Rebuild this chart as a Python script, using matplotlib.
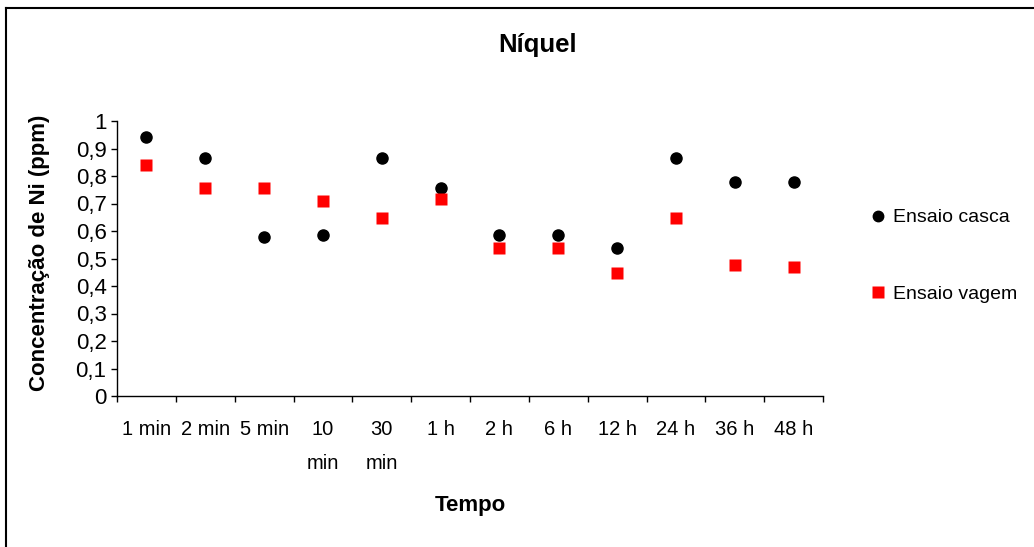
import matplotlib
matplotlib.use("Agg")
import matplotlib.pyplot as plt
from matplotlib.lines import Line2D

plt.rcParams['font.family'] = ['Liberation Sans', 'DejaVu Sans']

# Sampling times and nickel concentration (ppm) for each test
tempos = ["1 min", "2 min", "5 min", "10\nmin", "30\nmin", "1 h",
          "2 h", "6 h", "12 h", "24 h", "36 h", "48 h"]
ensaio_casca = [0.943, 0.865, 0.578, 0.584, 0.865, 0.758,
                0.585, 0.585, 0.54, 0.864, 0.779, 0.779]
ensaio_vagem = [0.841, 0.756, 0.756, 0.71, 0.647, 0.716,
                0.54, 0.54, 0.446, 0.648, 0.476, 0.47]

W, H = 1034, 547
fig = plt.figure(figsize=(W / 100, H / 100), dpi=100)
fig.patch.set_facecolor("white")

# plot area in pixel coordinates
x0, x1, y_top, y_bot = 117, 823, 121, 396
ax = fig.add_axes([x0 / W, 1 - y_bot / H, (x1 - x0) / W, (y_bot - y_top) / H])

pos = [i + 0.5 for i in range(len(tempos))]
ax.plot(pos, ensaio_casca, linestyle="none", marker="o", ms=8,
        color="black", mec="black", clip_on=False, zorder=3)
ax.plot(pos, ensaio_vagem, linestyle="none", marker="s", ms=8.5,
        color="#ff0000", mec="none", clip_on=False, zorder=3)

ax.set_xlim(0, len(tempos))
ax.set_ylim(0, 1)

# y axis
yt = [i / 10 for i in range(11)]
ax.set_yticks(yt)
ax.set_yticklabels(["0" if v == 0 else ("1" if v == 1 else f"{v:.1f}".replace(".", ",")) for v in yt])
ax.tick_params(axis="y", direction="out", length=4.5, width=1, pad=3,
               labelsize=16, color="black")

# x axis: labels at category centers, tick marks at boundaries
ax.set_xticks(pos)
ax.set_xticklabels(tempos, linespacing=2.05, verticalalignment="top")
ax.set_xticks(range(len(tempos) + 1), minor=True)
ax.tick_params(axis="x", which="major", length=0, pad=17, labelsize=14.5)
ax.tick_params(axis="x", which="minor", direction="out", length=4.5, width=1)

for side in ("top", "right"):
    ax.spines[side].set_visible(False)
for side in ("left", "bottom"):
    ax.spines[side].set_linewidth(1)
    ax.spines[side].set_color("black")

# titles
fig.text(538 / W, 1 - 45 / H, "Níquel", ha="center", va="center",
         fontsize=18.5, fontweight="bold")
fig.text(470 / W, 1 - 506 / H, "Tempo", ha="center", va="center",
         fontsize=16, fontweight="bold")
fig.text(40 / W, 1 - 253 / H, "Concentração de Ni (ppm)", ha="center",
         va="center", rotation=90, fontsize=16, fontweight="bold")

# legend
handles = [
    Line2D([], [], linestyle="none", marker="o", ms=7.5, color="black"),
    Line2D([], [], linestyle="none", marker="s", ms=8, color="#ff0000", mec="none"),
]
fig.legend(handles, ["Ensaio casca", "Ensaio vagem"], loc="center left",
           bbox_to_anchor=(870 / W, 1 - 256 / H), frameon=False, fontsize=14,
           handlelength=0.8, handletextpad=0.4, labelspacing=3.05,
           borderpad=0, borderaxespad=0)

# chart area border (top and left edges)
fig.add_artist(Line2D([6 / W, 6 / W], [0, 1 - 7.5 / H], transform=fig.transFigure,
                      color="black", lw=1.5))
fig.add_artist(Line2D([6 / W, 1], [1 - 7.5 / H, 1 - 7.5 / H], transform=fig.transFigure,
                      color="black", lw=1.5))

fig.savefig("out.png", dpi=100, facecolor="white")
